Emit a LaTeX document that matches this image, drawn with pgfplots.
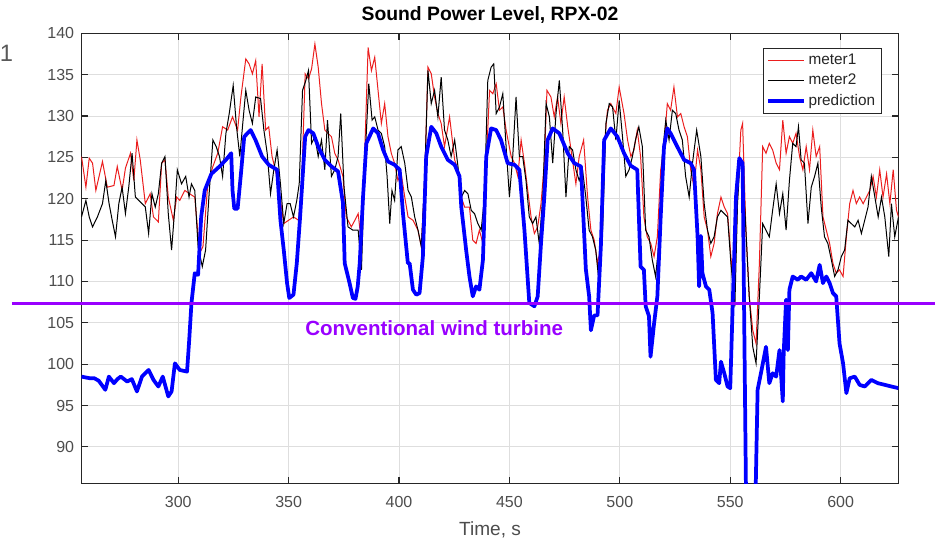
\documentclass[border=0pt]{standalone}
\usepackage{pgfplots}
\pgfplotsset{compat=1.18}
\usepackage{fontspec}
\setmainfont{Liberation Sans}
\definecolor{violetline}{RGB}{153,0,255}
\definecolor{axgray}{RGB}{38,38,38}
\definecolor{tickgray}{RGB}{77,77,77}
\definecolor{gridgray}{RGB}{222,222,222}
\definecolor{mred}{RGB}{235,30,30}

\begin{document}
\begin{tikzpicture}
\begin{axis}[
  at={(0,0)}, anchor=south west,
  scale only axis, width=612.75pt, height=337.5pt,
  xmin=256.2, xmax=626.2, ymin=85.6, ymax=140,
  xtick={300,350,...,600}, ytick={90,95,...,140},
  grid=major, major grid style={gridgray, line width=0.6pt},
  axis line style={axgray, line width=0.8pt},
  tick style={axgray, line width=0.8pt},
  tick align=inside, major tick length=5pt,
  xtick pos=both, ytick pos=both,
  ticklabel style={font=\fontsize{12}{14}\selectfont, text=tickgray},
  /pgf/number format/assume math mode=true,
  xticklabel style={yshift=-6.3pt},
  yticklabel style={xshift=-2pt},
  title={Sound Power Level, RPX-02},
  every axis title/.style={at={(0.5,1.028)}, anchor=base, inner sep=0pt,
    font=\fontsize{14.5}{17}\selectfont\bfseries},
  xlabel={Time, s},
  xlabel style={font=\fontsize{14.3}{17}\selectfont, text=tickgray, at={(0.5,-0.117)}, anchor=base, inner sep=0pt},
  legend style={at={(0.979,0.967)}, anchor=north east, font=\fontsize{11.5}{13}\selectfont,
    draw=axgray, fill=white, inner sep=2.5pt, row sep=1.5pt, text=black!85},
  legend cell align=left,
  legend image code/.code={\draw[#1] (0pt,0pt) -- (27pt,0pt);},
  clip mode=individual,
]
% meter1
\addplot[mred, line width=0.75pt] table {
t v
256.2 125.1
258.2 121.4
259.7 124.9
261.2 124.3
262.7 121.0
265.7 124.5
267.9 121.4
270.9 121.6
272.4 123.9
274.6 121.0
276.1 123.7
278.4 125.5
279.9 122.2
281.3 127.1
282.8 124.7
285.1 119.4
287.3 120.6
288.8 117.8
291.0 117.2
292.5 124.3
294.0 124.7
295.5 120.2
297.8 117.4
299.3 120.2
300.7 119.8
303.0 121.0
305.2 120.6
307.5 120.2
309.7 113.4
311.2 114.2
313.4 121.8
315.7 123.9
317.9 125.5
320.1 128.7
322.4 128.3
324.6 129.9
326.9 128.3
328.4 132.3
330.6 136.9
332.1 136.3
333.6 135.1
335.1 136.7
336.6 129.9
338.0 136.3
339.6 128.3
341.0 128.7
342.5 125.1
344.0 123.5
345.5 121.4
347.8 117.0
350.0 117.4
352.2 117.8
354.5 117.4
355.9 121.8
357.5 135.1
359.0 134.5
360.4 135.7
361.9 138.7
363.4 135.9
364.9 131.5
366.4 128.3
367.9 127.9
369.4 127.5
370.9 125.5
372.4 124.7
374.6 122.7
376.1 117.8
378.4 116.6
380.0 117.4
381.5 118.2
383.0 114.6
384.5 125.9
386.0 138.3
387.5 135.5
389.0 137.1
390.5 133.1
392.0 129.1
393.5 131.5
395.0 127.5
396.5 125.5
398.0 124.3
399.5 122.2
401.0 123.0
402.6 120.2
404.1 117.8
406.3 117.4
408.6 116.2
410.1 114.2
411.6 122.2
413.1 135.9
414.6 135.1
416.1 132.3
417.6 130.3
419.1 129.1
420.6 126.3
422.9 129.9
425.2 124.7
426.7 123.5
428.2 120.2
429.7 119.0
431.9 119.0
433.4 115.0
434.9 114.6
436.4 116.2
438.0 114.6
439.5 124.3
441.0 133.1
442.5 132.7
444.0 133.9
445.5 130.7
447.0 131.1
448.5 128.3
450.8 125.1
452.3 124.3
453.8 122.7
455.3 127.1
456.8 124.3
458.3 121.0
459.8 117.8
461.3 115.8
462.8 116.6
464.3 119.4
465.8 124.3
467.0 133.1
468.8 132.3
470.3 129.9
471.8 132.3
473.3 129.1
474.8 132.3
476.4 128.7
477.9 125.9
480.1 121.8
481.6 125.1
483.6 127.1
485.4 120.2
486.9 116.2
488.4 115.0
489.9 112.2
491.4 114.2
492.9 126.3
494.4 130.7
495.9 131.5
498.2 130.3
499.7 133.5
501.9 130.3
503.5 127.1
505.0 125.1
506.4 125.9
507.9 128.3
509.4 125.1
510.9 117.8
512.4 115.4
514.0 114.6
515.5 113.0
517.0 115.4
518.5 123.5
520.0 126.3
521.5 131.5
523.0 130.7
524.5 133.5
526.1 129.9
527.6 130.3
529.1 128.7
530.6 127.5
532.1 123.5
533.6 121.4
535.2 125.9
536.7 123.5
538.2 117.8
539.7 116.2
541.2 113.0
542.7 114.6
544.2 118.2
545.8 120.2
547.3 119.0
548.8 118.2
550.3 113.0
551.8 108.2
553.3 120.2
554.8 128.3
555.6 129.1
557.1 116.2
558.6 108.2
560.2 104.1
561.7 102.5
563.2 112.2
564.7 126.3
566.2 125.5
567.7 126.7
569.2 125.9
570.8 124.3
572.3 123.5
573.8 129.5
575.3 125.5
576.8 127.5
578.3 126.7
579.8 127.9
581.4 125.1
582.9 123.5
584.4 126.3
585.9 123.5
587.4 128.3
588.9 125.1
590.5 126.3
592.0 117.8
593.5 116.2
595.0 114.6
596.5 112.2
598.0 111.0
599.5 111.4
601.1 110.6
602.6 115.4
604.1 119.4
605.6 121.0
607.1 119.4
608.6 120.2
610.2 119.4
611.7 120.2
613.2 121.0
614.7 122.7
616.2 120.2
617.7 123.5
619.2 120.2
620.8 123.0
622.3 119.4
623.8 123.5
625.3 118.6
626.2 117.8
};
\addlegendentry{meter1}
% meter2
\addplot[black, line width=0.75pt] table {
t v
256.2 117.8
258.2 119.8
259.7 117.8
261.2 116.6
263.4 117.8
265.7 119.4
267.2 122.2
268.7 119.4
270.1 117.4
271.6 115.4
273.1 119.4
274.6 121.4
276.1 118.2
277.6 121.4
279.1 125.5
280.6 120.2
282.1 119.8
283.6 119.4
285.1 119.0
286.6 115.8
288.1 120.6
289.6 119.0
291.0 120.6
292.5 124.3
294.0 125.1
295.5 118.2
297.0 113.8
298.5 119.0
299.6 123.5
301.5 121.8
303.4 122.7
304.9 120.2
306.0 121.8
307.5 121.0
309.0 114.2
310.9 111.8
312.4 113.8
313.9 120.2
315.7 127.1
317.2 126.3
318.7 125.1
320.1 122.7
321.6 127.9
323.1 130.3
324.9 133.7
326.4 128.7
327.9 125.1
329.1 128.7
330.6 133.1
332.1 130.7
333.6 129.1
335.1 132.3
337.3 132.1
338.8 128.3
340.3 125.5
341.8 120.6
343.3 123.5
344.8 125.9
346.3 121.8
347.8 117.0
349.3 119.4
350.7 119.4
352.2 117.8
353.7 119.8
354.8 121.8
356.3 133.1
357.8 134.3
359.0 135.5
360.4 126.7
361.9 127.5
363.4 125.1
364.9 127.1
366.4 123.5
367.6 129.5
369.4 122.7
370.9 123.5
372.4 125.1
373.6 130.3
375.1 121.4
376.9 116.6
379.1 116.2
381.5 116.2
383.0 111.4
384.5 124.3
386.3 133.9
387.8 129.5
389.0 129.9
390.5 128.3
392.0 127.9
393.5 126.3
394.6 122.7
395.8 117.0
396.8 121.0
398.0 119.8
399.5 125.9
401.0 126.3
402.6 124.3
404.1 121.0
405.6 120.2
407.1 117.8
408.6 116.2
410.1 114.2
411.6 122.2
413.1 135.5
414.6 131.5
416.1 133.1
417.6 129.9
419.1 134.7
420.6 128.3
422.1 127.1
423.6 125.1
425.2 127.1
426.7 123.9
428.2 120.2
429.7 121.0
431.2 120.6
432.7 118.6
434.2 118.2
435.7 117.0
437.2 116.2
438.7 120.2
440.2 134.3
441.7 135.9
442.9 136.3
444.0 130.3
445.5 131.1
447.0 132.7
448.5 126.3
450.0 120.2
451.5 125.1
453.0 132.3
454.5 125.1
456.0 125.1
457.5 122.2
459.0 117.8
460.5 117.0
462.0 117.8
463.5 114.6
465.1 120.2
466.6 131.5
468.1 129.9
469.6 124.3
471.1 130.3
472.6 134.3
474.1 128.3
475.6 120.2
477.1 126.3
478.6 125.9
480.1 123.5
481.6 122.2
483.1 123.5
484.6 120.2
486.1 116.2
487.6 115.4
489.1 113.8
490.6 109.8
492.2 116.2
493.7 129.1
495.2 131.5
496.7 131.1
498.2 127.1
499.7 131.9
501.2 127.5
502.7 122.7
504.2 123.5
505.7 125.1
507.1 127.1
508.6 128.7
510.2 126.3
511.7 116.2
513.2 115.4
514.7 112.6
516.2 110.6
517.7 114.6
519.2 125.1
520.8 129.5
522.3 127.1
523.8 130.7
525.3 130.3
526.8 128.3
528.3 127.1
529.8 122.7
531.4 120.2
532.9 124.3
534.8 128.3
536.7 125.1
538.2 119.4
539.7 116.2
541.2 114.6
542.7 115.4
544.2 117.8
545.8 118.6
547.3 118.2
548.8 117.8
550.3 112.2
552.1 107.0
553.3 119.4
554.5 124.9
555.6 124.3
557.1 116.2
558.6 108.2
560.2 102.1
561.7 100.1
563.2 108.2
564.7 117.0
566.2 116.2
567.7 115.4
569.2 118.6
570.8 121.8
572.3 118.2
573.8 120.6
575.3 116.2
576.8 122.2
578.3 126.7
579.8 126.3
580.9 128.7
582.1 124.7
583.6 124.3
585.2 117.0
586.7 121.4
588.2 122.7
589.7 124.3
591.2 119.0
592.7 115.4
594.2 114.6
595.8 112.6
597.3 110.6
598.8 111.4
600.3 113.0
601.8 113.8
603.3 117.4
604.8 117.0
606.4 116.6
607.9 117.4
609.4 115.8
610.9 117.4
612.4 119.0
613.9 122.7
615.5 120.2
617.0 117.8
618.5 120.2
620.0 117.8
621.8 113.0
623.0 119.4
624.5 115.4
626.2 117.8
};
\addlegendentry{meter2}
% prediction
\addplot[blue, line width=2.8pt, line join=round] table {
t v
256.2 98.5
258.0 98.4
260.0 98.3
262.0 98.3
264.0 98.0
267.0 96.9
268.6 98.5
270.9 97.7
272.5 98.2
274.0 98.5
276.9 97.9
279.0 98.2
281.3 96.7
283.6 98.5
286.6 99.3
288.8 98.1
291.0 97.3
293.0 98.5
295.5 96.1
297.0 96.7
298.5 100.1
300.7 99.3
304.0 99.1
305.0 103.0
306.0 107.4
307.5 111.0
309.0 110.8
310.4 117.8
312.0 121.0
315.0 123.0
318.7 123.9
321.6 124.7
324.0 125.5
324.6 121.0
325.4 118.8
326.9 118.8
328.4 123.0
329.9 127.5
332.8 128.3
335.0 127.1
338.0 125.1
341.0 124.1
344.8 123.5
346.3 117.4
347.8 113.8
349.3 109.8
350.3 108.0
352.2 108.4
353.7 112.2
355.2 117.8
357.5 127.5
359.0 128.3
361.2 127.9
363.4 126.3
366.4 124.7
369.4 123.9
372.4 123.3
374.6 119.5
375.4 112.2
377.6 109.8
379.1 108.0
380.3 107.9
381.3 109.4
382.2 112.2
383.7 120.2
385.2 126.7
388.3 128.5
390.5 127.9
392.8 125.9
395.0 124.5
398.0 124.1
400.3 123.5
401.8 118.2
404.0 112.2
404.8 112.2
406.3 109.0
407.8 108.4
409.3 108.6
410.8 113.0
412.3 125.1
414.6 128.7
416.9 127.9
419.1 126.3
422.1 124.7
425.2 124.1
427.4 122.7
428.2 119.0
430.4 113.8
431.9 110.6
433.4 108.2
434.9 109.4
436.4 109.0
438.0 112.6
439.5 125.1
441.7 128.5
444.0 128.3
446.2 127.1
449.2 124.3
452.3 124.1
454.5 123.5
456.8 116.2
459.0 107.4
461.3 107.0
462.8 108.2
464.3 114.6
465.8 120.2
467.3 127.1
469.6 128.5
472.6 127.9
476.4 125.5
479.4 124.3
482.4 123.9
484.6 111.5
486.1 108.2
486.9 104.1
488.4 105.9
489.9 105.9
491.4 114.2
492.9 127.1
495.9 128.5
498.9 127.5
501.9 125.5
504.9 124.0
507.9 123.5
509.4 111.8
510.9 111.4
511.7 107.0
513.2 105.8
513.9 100.9
515.5 104.9
517.0 108.2
518.5 117.8
520.0 126.3
521.5 128.5
523.0 127.9
526.0 126.3
529.1 124.7
532.1 124.3
533.6 123.5
535.2 115.5
535.9 109.4
536.7 115.5
537.4 111.0
539.0 109.4
540.5 109.0
542.0 106.2
543.5 98.1
545.0 97.7
545.8 100.3
547.3 98.9
548.8 97.3
550.0 97.1
551.1 107.0
552.6 120.2
554.1 124.9
555.6 124.3
557.5 75.0
560.8 75.0
562.4 96.9
563.9 98.9
566.2 102.1
567.7 97.7
569.2 98.9
570.8 98.5
572.3 101.7
573.8 95.5
574.2 101.3
575.3 107.8
576.1 101.7
576.8 109.0
578.3 110.6
580.6 110.2
582.1 110.6
584.4 110.2
586.7 111.0
588.9 110.0
590.5 112.0
592.0 109.8
593.5 110.6
595.0 109.8
596.5 108.6
598.0 108.2
599.5 102.5
601.1 100.1
602.6 96.5
604.1 98.3
606.4 98.5
608.6 97.5
610.9 97.3
613.9 98.1
616.9 97.7
620.0 97.5
623.0 97.3
626.2 97.1
};
\addlegendentry{prediction}
\draw[violetline, line width=2.5pt] (axis cs:224.7,107.3) -- (axis cs:642.7,107.3);
\node[violetline, font=\fontsize{15.4}{18}\selectfont\bfseries, anchor=west, inner sep=0pt]
  at (rel axis cs:0.2736,0.345) {Conventional wind turbine};
\end{axis}
\node[text=black!65, font=\fontsize{17.8}{20}\selectfont, inner sep=0pt] at (-56.25pt,322.35pt) {1};
\pgfresetboundingbox
\path[use as bounding box] (-61.125pt,-44.025pt) rectangle (643.875pt,362.475pt);
\end{tikzpicture}
\end{document}
